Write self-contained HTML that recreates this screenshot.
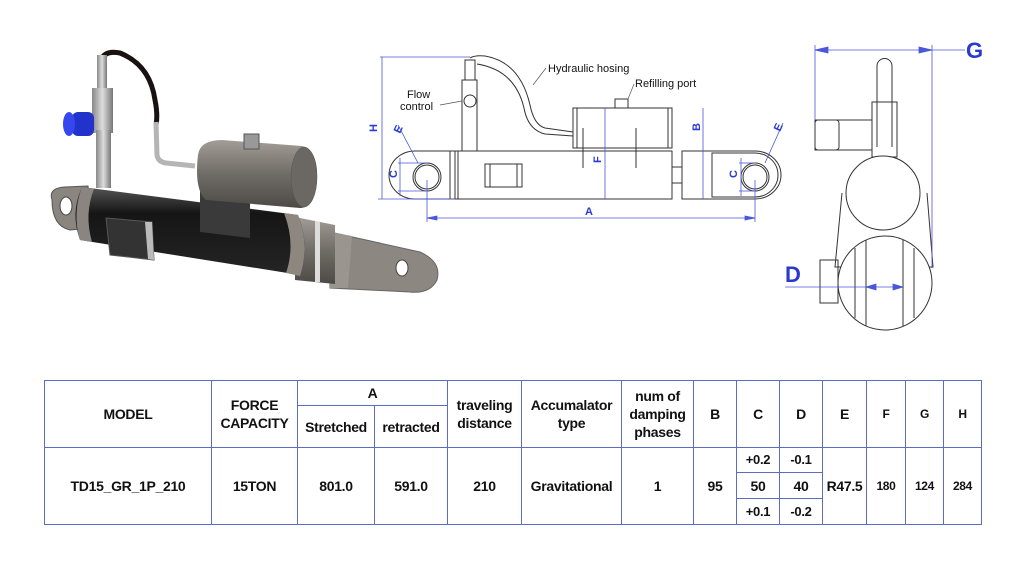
<!DOCTYPE html>
<html><head><meta charset="utf-8"><style>
html,body{margin:0;padding:0;background:#fff;width:1024px;height:576px;overflow:hidden;font-family:"Liberation Sans",sans-serif}
svg{position:absolute;left:0;top:0}
table{position:absolute;left:44px;top:380px;border-collapse:collapse;table-layout:fixed;width:937px}
td{border:1.5px solid #5b6cc2;text-align:center;font-weight:bold;font-size:14px;color:#111;padding:0;line-height:18px;letter-spacing:-0.3px}
</style></head><body>
<svg width="1024" height="380" viewBox="0 0 1024 380">
<defs>
<linearGradient id="blk" x1="0" y1="0" x2="0" y2="1"><stop offset="0" stop-color="#555"/><stop offset=".3" stop-color="#151515"/><stop offset="1" stop-color="#252525"/></linearGradient>
<linearGradient id="met" x1="0" y1="0" x2="0" y2="1"><stop offset="0" stop-color="#a29d96"/><stop offset=".5" stop-color="#706c66"/><stop offset="1" stop-color="#4d4a46"/></linearGradient>
<linearGradient id="steel" x1="0" y1="0" x2="1" y2="0"><stop offset="0" stop-color="#888"/><stop offset=".5" stop-color="#ddd"/><stop offset="1" stop-color="#777"/></linearGradient>
</defs>
<!-- 3D render -->
<!-- right eye plate -->
<path d="M330 232 L420 252 Q442 262 437 280 Q430 294 410 292 L330 288Z" fill="#8c8780" stroke="#666"/>
<ellipse cx="402" cy="268" rx="6" ry="8" fill="#fff" stroke="#444"/>
<path d="M330 232 L352 236 L348 288 L330 288Z" fill="#9a958f"/>
<!-- rod -->
<path d="M295 217 L335 225 L335 284 L295 280Z" fill="url(#met)"/>
<path d="M315 221 L320 222 L320 282 L315 282Z" fill="#ddd"/>
<!-- left eye -->
<path d="M52 200 Q48 188 65 187 L88 186 L92 228 L70 230 Q52 226 52 200Z" fill="#8a857f" stroke="#555"/>
<ellipse cx="66" cy="206" rx="6" ry="9" fill="#fff" stroke="#444"/>
<!-- body -->
<path d="M82 187 L298 215 Q310 245 300 275 L80 240 Q70 212 82 187Z" fill="url(#blk)"/>
<path d="M82 187 Q72 214 80 240 L92 242 Q84 214 94 189Z" fill="#8a8580"/>
<path d="M284 213 Q296 244 286 273 L300 276 Q310 245 298 215Z" fill="#8d8780"/>
<path d="M106 218 L152 222 L154 260 L110 255Z" fill="#333" stroke="#555"/>
<path d="M145 222 L152 222 L154 260 L148 259Z" fill="#bbb"/>
<!-- saddle -->
<path d="M200 178 L250 183 L250 238 L200 232Z" fill="#3a3a3a"/>
<!-- accumulator -->
<path d="M198 155 Q200 140 222 140 L302 146 Q318 150 317 178 Q315 208 300 208 L206 200 Q194 190 198 155Z" fill="url(#met)"/>
<ellipse cx="304" cy="177" rx="13" ry="30" fill="#6b6762" stroke="#555" stroke-width="0.5"/>
<rect x="244" y="134" width="15" height="15" fill="#999" stroke="#555"/>
<!-- hose -->
<path d="M101 60 Q105 50 120 53 Q150 65 155 100 Q158 115 156 125" fill="none" stroke="#1a1212" stroke-width="5"/>
<path d="M156 122 L157 155 Q158 162 166 163 L195 166" fill="none" stroke="#b5b5b5" stroke-width="5"/>
<rect x="97" y="55" width="10" height="35" fill="url(#steel)"/>
<rect x="92" y="88" width="21" height="45" fill="url(#steel)"/>
<rect x="96" y="130" width="15" height="58" fill="url(#steel)"/>
<rect x="72" y="112" width="22" height="24" rx="6" fill="#2233cc"/>
<ellipse cx="69" cy="124" rx="6" ry="12" fill="#3547ee"/>
<!-- Middle drawing -->
<g fill="none" stroke="#333" stroke-width="1">
<rect x="455" y="151" width="217" height="48"/>
<line x1="458" y1="151" x2="458" y2="199"/>
<rect x="485" y="164" width="37" height="23"/>
<rect x="490" y="164" width="27" height="23"/>
<path d="M455 151 L415 151 A26 24 0 0 0 415 199 L455 199"/>
<line x1="450" y1="151" x2="450" y2="199"/>
<circle cx="427" cy="177" r="14"/><circle cx="427" cy="177" r="12"/>
<path d="M682 151 L755 151 A26 24 0 0 1 755 199 L682 199 Z"/>
<path d="M712 153 L755 153 A23 22 0 0 1 755 197 L712 197 Z"/>
<circle cx="755" cy="177" r="14"/><circle cx="755" cy="177" r="12"/>
<rect x="672" y="167" width="10" height="16"/>
<rect x="573" y="108" width="99" height="40"/>
<line x1="577" y1="108" x2="577" y2="148"/><line x1="668" y1="108" x2="668" y2="148"/>
<line x1="583" y1="128" x2="583" y2="168"/><line x1="636" y1="128" x2="636" y2="168"/>
<rect x="615" y="99" width="13" height="9"/>
<rect x="462" y="80" width="15" height="71"/>
<rect x="465" y="60" width="10" height="20"/>
<circle cx="470" cy="101" r="6"/>
<path d="M470 58 Q475 55 485 56 Q520 62 530 105 Q534 125 545 128 L573 132"/>
<path d="M477 64 Q515 70 524 108 Q528 130 545 134 L573 136"/>
</g>
<g stroke="#4a58d8" stroke-width="0.8" fill="#4a58d8">
<line x1="380" y1="57" x2="470" y2="57"/>
<line x1="382" y1="57" x2="382" y2="199"/>
<line x1="378" y1="199" x2="455" y2="199"/>
<line x1="427" y1="180" x2="427" y2="222"/><line x1="755" y1="180" x2="755" y2="222"/>
<line x1="427" y1="218" x2="755" y2="218"/>
<line x1="605" y1="108" x2="605" y2="199"/>
<line x1="703" y1="108" x2="703" y2="199"/>
<line x1="398" y1="163" x2="427" y2="163"/><line x1="398" y1="191" x2="427" y2="191"/>
<line x1="400" y1="158" x2="400" y2="196"/>
<line x1="739" y1="163" x2="755" y2="163"/><line x1="739" y1="191" x2="755" y2="191"/>
<line x1="741" y1="158" x2="741" y2="196"/>
<line x1="398" y1="125" x2="418" y2="163"/>
<line x1="783" y1="123" x2="765" y2="163"/>
</g>
<g fill="#2a3ad0" font-family="Liberation Sans,sans-serif" font-weight="bold" font-size="11">
<text x="585" y="215">A</text>
<text transform="translate(377,132) rotate(-90)">H</text>
<text transform="translate(601,163) rotate(-90)">F</text>
<text transform="translate(700,131) rotate(-90)">B</text>
<text transform="translate(397,178) rotate(-90)">C</text>
<text transform="translate(737,178) rotate(-90)">C</text>
<text transform="translate(400,134) rotate(-65)">E</text>
<text transform="translate(780,132) rotate(-65)">E</text>
</g>
<g fill="#111" font-family="Liberation Sans,sans-serif" font-size="11">
<text x="548" y="72">Hydraulic hosing</text>
<text x="635" y="87">Refilling port</text>
<text x="407" y="98">Flow</text>
<text x="400" y="110">control</text>
</g>
<g stroke="#555" stroke-width="0.7"><line x1="440" y1="105" x2="462" y2="101"/><line x1="546" y1="68" x2="533" y2="85"/><line x1="634" y1="84" x2="628" y2="99"/></g>
<!-- Right view -->
<g fill="none" stroke="#333" stroke-width="1">
<path d="M877 147 L877 66 A7.5 7.5 0 0 1 892 66 L892 147"/>
<rect x="872" y="102" width="25" height="55"/>
<rect x="815" y="120" width="57" height="30"/>
<rect x="815" y="120" width="24" height="30" rx="3"/>
<path d="M842 193 L835 267 L933 267 L927 193"/>
<circle cx="883" cy="193" r="37" fill="#fff"/>
<circle cx="885" cy="283" r="47" fill="#fff"/>
<line x1="855" y1="248" x2="855" y2="318"/><line x1="866" y1="240" x2="866" y2="326"/>
<line x1="903" y1="240" x2="903" y2="326"/><line x1="914" y1="248" x2="914" y2="318"/>
<rect x="820" y="260" width="18" height="43"/>
</g>
<g stroke="#4a58d8" stroke-width="0.8" fill="#4a58d8">
<line x1="815" y1="50" x2="965" y2="50"/>
<line x1="815" y1="45" x2="815" y2="120"/>
<line x1="932" y1="45" x2="932" y2="268"/>
<line x1="785" y1="287" x2="903" y2="287"/>
<path d="M815 50 L828 47 L828 53Z"/><path d="M932 50 L919 47 L919 53Z"/>
<path d="M866 287 L876 284 L876 290Z"/><path d="M903 287 L893 284 L893 290Z"/>
<path d="M427 218 L437 216 L437 220Z"/><path d="M755 218 L745 216 L745 220Z"/>
</g>
<g fill="#2a3ad0" font-family="Liberation Sans,sans-serif" font-weight="bold" font-size="22">
<text x="966" y="58">G</text>
<text x="785" y="282">D</text>
</g>
</svg>
<table>
<colgroup><col style="width:167px"><col style="width:86px"><col style="width:77px"><col style="width:73px"><col style="width:74px"><col style="width:100px"><col style="width:72px"><col style="width:43px"><col style="width:43px"><col style="width:43px"><col style="width:44px"><col style="width:39px"><col style="width:38px"><col style="width:38px"></colgroup>
<tr style="height:25px"><td rowspan="2">MODEL</td><td rowspan="2">FORCE<br>CAPACITY</td><td colspan="2">A</td><td rowspan="2">traveling<br>distance</td><td rowspan="2">Accumalator<br>type</td><td rowspan="2">num of<br>damping<br>phases</td><td rowspan="2">B</td><td rowspan="2">C</td><td rowspan="2">D</td><td rowspan="2">E</td><td rowspan="2" style="font-size:12px">F</td><td rowspan="2" style="font-size:12px">G</td><td rowspan="2" style="font-size:12px">H</td></tr>
<tr style="height:42px"><td>Stretched</td><td>retracted</td></tr>
<tr style="height:25px"><td rowspan="3">TD15_GR_1P_210</td><td rowspan="3">15TON</td><td rowspan="3">801.0</td><td rowspan="3">591.0</td><td rowspan="3">210</td><td rowspan="3">Gravitational</td><td rowspan="3">1</td><td rowspan="3">95</td><td style="font-size:13px">+0.2</td><td style="font-size:13px">-0.1</td><td rowspan="3">R47.5</td><td rowspan="3" style="font-size:12px">180</td><td rowspan="3" style="font-size:12px">124</td><td rowspan="3" style="font-size:12px">284</td></tr>
<tr style="height:26px"><td>50</td><td>40</td></tr>
<tr style="height:26px"><td style="font-size:13px">+0.1</td><td style="font-size:13px">-0.2</td></tr>
</table>
</body></html>
